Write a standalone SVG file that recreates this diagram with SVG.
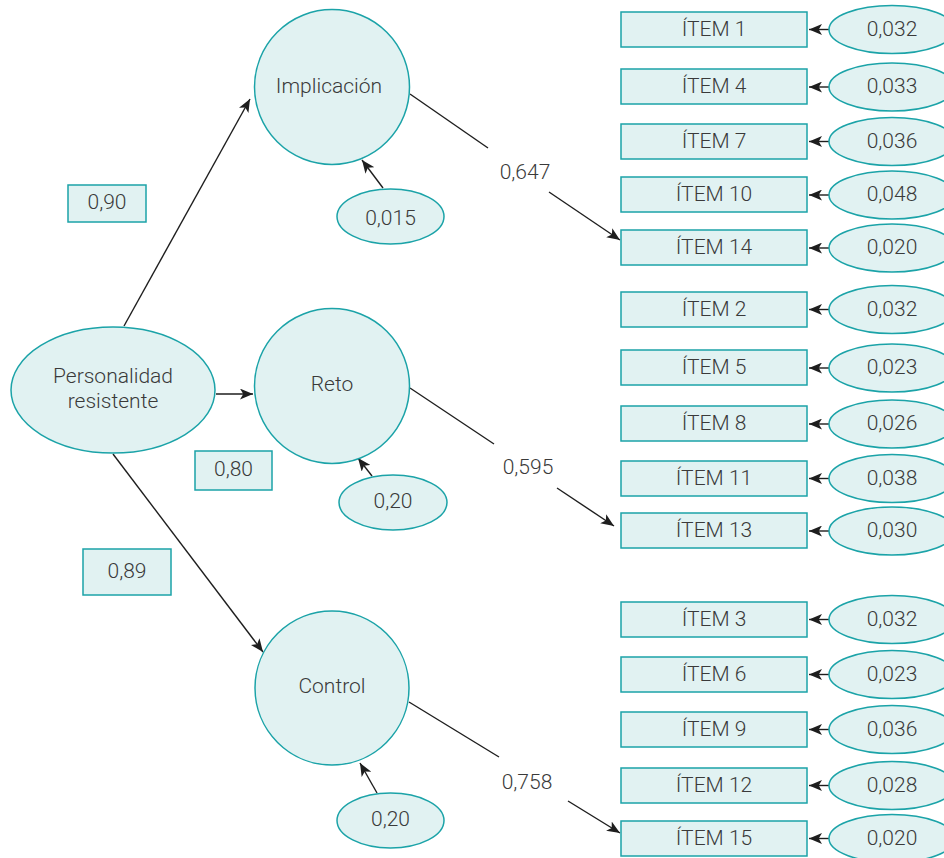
<svg xmlns="http://www.w3.org/2000/svg" width="944" height="858" viewBox="0 0 944 858">
<defs>
<marker id="ah" viewBox="0 0 12 10" refX="12" refY="5" markerWidth="13" markerHeight="11" markerUnits="userSpaceOnUse" orient="auto">
<path d="M0,0 L12,5 L0,10 L3,5 z" fill="#1e1e1e"/>
</marker>
<style>
.n{fill:#e1f2f2;stroke:#1ba3a8;stroke-width:1.5}
.t{font-family:Roboto,"Liberation Sans",sans-serif;font-weight:300;font-size:21px;fill:#3a3a3a;text-anchor:middle;dominant-baseline:central}
.c{stroke:#1e1e1e;stroke-width:1.4;fill:none}
.a{marker-end:url(#ah)}
</style>
</defs>
<rect width="944" height="858" fill="#ffffff"/>

<g id="connectors">
<line class="c a" x1="124" y1="326" x2="250" y2="99"/>
<line class="c a" x1="216" y1="394" x2="253" y2="394"/>
<line class="c a" x1="113" y1="454" x2="263" y2="652"/>
<line class="c a" x1="383" y1="188" x2="362" y2="160"/>
<line class="c a" x1="372" y1="476" x2="358" y2="458"/>
<line class="c a" x1="377" y1="793" x2="360" y2="763"/>
<line class="c" x1="410" y1="94" x2="488" y2="148"/>
<line class="c a" x1="549" y1="192" x2="620" y2="240"/>
<line class="c" x1="410" y1="388" x2="494" y2="444"/>
<line class="c a" x1="557" y1="488" x2="614" y2="526"/>
<line class="c" x1="409" y1="702" x2="499" y2="757"/>
<line class="c a" x1="568" y1="801" x2="620" y2="833"/>
<g id="err-arrows">
<line class="c a" x1="829" y1="29.5" x2="809" y2="29.5"/>
<line class="c a" x1="829" y1="87" x2="809" y2="87"/>
<line class="c a" x1="829" y1="141.5" x2="809" y2="141.5"/>
<line class="c a" x1="829" y1="195" x2="809" y2="195"/>
<line class="c a" x1="829" y1="248" x2="809" y2="248"/>
<line class="c a" x1="829" y1="309.5" x2="809" y2="309.5"/>
<line class="c a" x1="829" y1="368" x2="809" y2="368"/>
<line class="c a" x1="829" y1="424" x2="809" y2="424"/>
<line class="c a" x1="829" y1="478.5" x2="809" y2="478.5"/>
<line class="c a" x1="829" y1="531" x2="809" y2="531"/>
<line class="c a" x1="829" y1="619.5" x2="809" y2="619.5"/>
<line class="c a" x1="829" y1="674.5" x2="809" y2="674.5"/>
<line class="c a" x1="829" y1="729.5" x2="809" y2="729.5"/>
<line class="c a" x1="829" y1="785.5" x2="809" y2="785.5"/>
<line class="c a" x1="829" y1="838.5" x2="809" y2="838.5"/>
</g>
</g>

<text class="t" x="525" y="172">0,647</text>
<text class="t" x="528" y="467">0,595</text>
<text class="t" x="527" y="782">0,758</text>

<g id="personalidad"><ellipse class="n" cx="113" cy="390" rx="102" ry="63"/><text class="t" x="113" y="376">Personalidad</text><text class="t" x="113" y="401">resistente</text></g>
<g id="implicacion"><circle class="n" cx="332" cy="87" r="77.5"/><text class="t" x="329" y="86">Implicación</text></g>
<g id="reto"><circle class="n" cx="332" cy="386" r="77.5"/><text class="t" x="332" y="384">Reto</text></g>
<g id="control"><circle class="n" cx="332" cy="688" r="77"/><text class="t" x="332" y="686">Control</text></g>

<g id="w090"><rect class="n" x="68" y="185" width="78" height="37"/><text class="t" x="107" y="202">0,90</text></g>
<g id="w080"><rect class="n" x="195" y="451" width="77" height="39"/><text class="t" x="233.5" y="469">0,80</text></g>
<g id="w089"><rect class="n" x="83" y="549" width="88" height="46"/><text class="t" x="127" y="571">0,89</text></g>

<g id="e-impl"><ellipse class="n" cx="390.5" cy="216.5" rx="53.5" ry="27.5"/><text class="t" x="390.5" y="218">0,015</text></g>
<g id="e-reto"><ellipse class="n" cx="393" cy="502.5" rx="54" ry="27.5"/><text class="t" x="393" y="501">0,20</text></g>
<g id="e-control"><ellipse class="n" cx="390.5" cy="820.5" rx="53.5" ry="27.5"/><text class="t" x="390.5" y="819">0,20</text></g>

<g id="item1"><rect class="n" x="621" y="12" width="186" height="35"/><text class="t" x="714" y="29">ÍTEM 1</text></g>
<g id="item4"><rect class="n" x="621" y="69" width="186" height="35"/><text class="t" x="714" y="86">ÍTEM 4</text></g>
<g id="item7"><rect class="n" x="621" y="124" width="186" height="35"/><text class="t" x="714" y="141">ÍTEM 7</text></g>
<g id="item10"><rect class="n" x="621" y="177" width="186" height="35"/><text class="t" x="714" y="194">ÍTEM 10</text></g>
<g id="item14"><rect class="n" x="621" y="230" width="186" height="35"/><text class="t" x="714" y="247">ÍTEM 14</text></g>
<g id="item2"><rect class="n" x="621" y="292" width="186" height="35"/><text class="t" x="714" y="309">ÍTEM 2</text></g>
<g id="item5"><rect class="n" x="621" y="350" width="186" height="35"/><text class="t" x="714" y="367">ÍTEM 5</text></g>
<g id="item8"><rect class="n" x="621" y="406" width="186" height="35"/><text class="t" x="714" y="423">ÍTEM 8</text></g>
<g id="item11"><rect class="n" x="621" y="461" width="186" height="35"/><text class="t" x="714" y="478">ÍTEM 11</text></g>
<g id="item13"><rect class="n" x="621" y="513" width="186" height="35"/><text class="t" x="714" y="530">ÍTEM 13</text></g>
<g id="item3"><rect class="n" x="621" y="602" width="186" height="35"/><text class="t" x="714" y="619">ÍTEM 3</text></g>
<g id="item6"><rect class="n" x="621" y="657" width="186" height="35"/><text class="t" x="714" y="674">ÍTEM 6</text></g>
<g id="item9"><rect class="n" x="621" y="712" width="186" height="35"/><text class="t" x="714" y="729">ÍTEM 9</text></g>
<g id="item12"><rect class="n" x="621" y="768" width="186" height="35"/><text class="t" x="714" y="785">ÍTEM 12</text></g>
<g id="item15"><rect class="n" x="621" y="821" width="186" height="35"/><text class="t" x="714" y="838">ÍTEM 15</text></g>

<g id="err1"><ellipse class="n" cx="892" cy="29.5" rx="63" ry="24"/><text class="t" x="892" y="29">0,032</text></g>
<g id="err4"><ellipse class="n" cx="892" cy="87" rx="63" ry="24"/><text class="t" x="892" y="86">0,033</text></g>
<g id="err7"><ellipse class="n" cx="892" cy="141.5" rx="63" ry="24"/><text class="t" x="892" y="141">0,036</text></g>
<g id="err10"><ellipse class="n" cx="892" cy="195" rx="63" ry="24"/><text class="t" x="892" y="194">0,048</text></g>
<g id="err14"><ellipse class="n" cx="892" cy="248" rx="63" ry="24"/><text class="t" x="892" y="247">0,020</text></g>
<g id="err2"><ellipse class="n" cx="892" cy="309.5" rx="63" ry="24"/><text class="t" x="892" y="309">0,032</text></g>
<g id="err5"><ellipse class="n" cx="892" cy="368" rx="63" ry="24"/><text class="t" x="892" y="367">0,023</text></g>
<g id="err8"><ellipse class="n" cx="892" cy="424" rx="63" ry="24"/><text class="t" x="892" y="423">0,026</text></g>
<g id="err11"><ellipse class="n" cx="892" cy="478.5" rx="63" ry="24"/><text class="t" x="892" y="478">0,038</text></g>
<g id="err13"><ellipse class="n" cx="892" cy="531" rx="63" ry="24"/><text class="t" x="892" y="530">0,030</text></g>
<g id="err3"><ellipse class="n" cx="892" cy="619.5" rx="63" ry="24"/><text class="t" x="892" y="619">0,032</text></g>
<g id="err6"><ellipse class="n" cx="892" cy="674.5" rx="63" ry="24"/><text class="t" x="892" y="674">0,023</text></g>
<g id="err9"><ellipse class="n" cx="892" cy="729.5" rx="63" ry="24"/><text class="t" x="892" y="729">0,036</text></g>
<g id="err12"><ellipse class="n" cx="892" cy="785.5" rx="63" ry="24"/><text class="t" x="892" y="785">0,028</text></g>
<g id="err15"><ellipse class="n" cx="892" cy="838.5" rx="63" ry="24"/><text class="t" x="892" y="838">0,020</text></g>
</svg>
